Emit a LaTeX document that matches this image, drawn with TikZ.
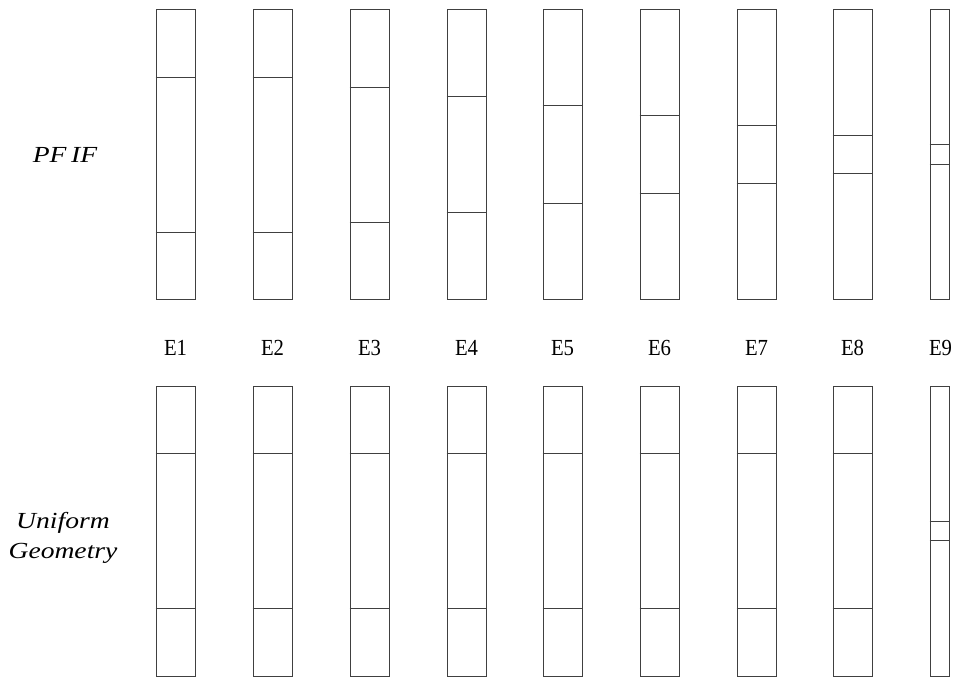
\documentclass[tikz,border=0pt]{standalone}
\usepackage{fontspec}
\setmainfont{Liberation Serif}
\begin{document}
\begin{tikzpicture}[x=1pt,y=-1pt,
  col/.style={draw=black!75,line width=1.7pt,rectangle,inner sep=0pt,minimum width=39pt,minimum height=290pt},
  div/.style={draw=black!75,line width=1.7pt},
  lab/.style={font=\fontsize{23}{30}\selectfont,inner sep=0pt,anchor=base},
  side/.style={font=\fontsize{23}{30}\selectfont\itshape,inner sep=0pt,align=center}]
\useasboundingbox (0,0) rectangle (957,679);
% top row (PFIF) and bottom row (Uniform Geometry)
\foreach \i/\cx/\a/\b in {1/176/77.5/232.5,2/273/77.5/232.5,3/370/87.5/222.5,4/467/96.5/212.5,5/563/105.5/203.5,6/660/115.5/193.5,7/757/125.5/183.5,8/853/135.5/173.5}{
  \node[col] (t\i) at (\cx,154.5) {};
  \draw[div] (t\i.west |- 0,\a) -- (t\i.east |- 0,\a);
  \draw[div] (t\i.west |- 0,\b) -- (t\i.east |- 0,\b);
  \node[col] (b\i) at (\cx,531.5) {};
  \draw[div] (b\i.west |- 0,453.5) -- (b\i.east |- 0,453.5);
  \draw[div] (b\i.west |- 0,608.5) -- (b\i.east |- 0,608.5);
  \node[lab] (l\i) at (\cx-0.5,355.5) {\scalebox{0.9}[1]{E\i}};
}
\node[col,minimum width=19pt] (t9) at (940,154.5) {};
\draw[div] (t9.west |- 0,144.5) -- (t9.east |- 0,144.5);
\draw[div] (t9.west |- 0,164.5) -- (t9.east |- 0,164.5);
\node[col,minimum width=19pt] (b9) at (940,531.5) {};
\draw[div] (b9.west |- 0,521.5) -- (b9.east |- 0,521.5);
\draw[div] (b9.west |- 0,540.5) -- (b9.east |- 0,540.5);
\node[lab] (l9) at (940.5,355.5) {\scalebox{0.9}[1]{E9}};
% side labels
\node[side,anchor=base] (pfif) at (65,163) {\scalebox{1.2}[1]{PF\,IF}};
\node[side] (unif) at (63,538) {\scalebox{1.2}[1]{Uniform}\\\scalebox{1.2}[1]{Geometry}};
\end{tikzpicture}
\end{document}
